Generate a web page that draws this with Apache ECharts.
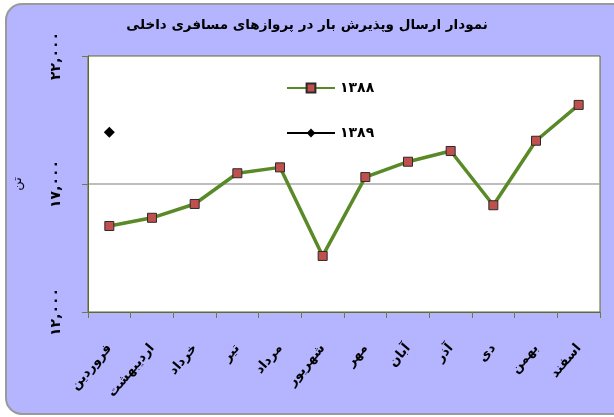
<!DOCTYPE html>
<html>
<head>
<meta charset="utf-8">
<script src="https://cdn.jsdelivr.net/npm/echarts@6/dist/echarts.min.js"></script>
<style>
html,body{margin:0;padding:0;background:#fff;}
#c{width:614px;height:417px;}
</style>
</head>
<body>
<div id="c"></div>
<script>
var titleText = 'نمودار ارسال وپذیرش بار در پروازهای مسافری داخلی';
var months = ['فروردین','اردیبهشت','خرداد','تیر','مرداد','شهریور','مهر','آبان','آذر','دی','بهمن','اسفند'];
var seriesNames = ['۱۳۸۸','۱۳۸۹'];
var values1388 = [15360, 15680, 16220, 17420, 17650, 14190, 17270, 17870, 18290, 16170, 18690, 20090];
var values1389 = [19020, null, null, null, null, null, null, null, null, null, null, null];
var yTicks = {12000:'۱۲,۰۰۰', 17000:'۱۷,۰۰۰', 22000:'۲۲,۰۰۰'};
var yName = 'تن';

var font = 'DejaVu Sans';
var chart = echarts.init(document.getElementById('c'), null, {renderer:'canvas'});
chart.setOption({
  animation:false,
  backgroundColor:'#ffffff',
  graphic:[{
    type:'rect', z:-10, silent:true,
    shape:{x:6,y:4,width:624,height:410,r:16},
    style:{fill:'#B4B4FF',stroke:'#9A9A9A',lineWidth:2}
  }],
  title:{
    text:titleText, left:'center', top:13,
    textStyle:{fontFamily:font,fontWeight:'bold',fontSize:13.5,color:'#000'}
  },
  legend:{
    orient:'vertical', left:281, top:76,
    itemWidth:48, itemHeight:11, itemGap:31,
    textStyle:{fontFamily:font,fontWeight:'bold',fontSize:14,color:'#000'},
    data:seriesNames
  },
  grid:{left:88,right:14,top:56,bottom:105,show:true,backgroundColor:'#ffffff',borderColor:'#5C6B2E',borderWidth:1},
  xAxis:{
    type:'category', data:months, boundaryGap:true,
    axisLine:{lineStyle:{color:'#5C6B2E',width:1}},
    axisTick:{show:true,length:6,lineStyle:{color:'#6B7B4A'}},
    axisLabel:{interval:0,rotate:50,margin:34,fontFamily:font,fontWeight:'bold',fontSize:13,color:'#000'}
  },
  yAxis:{
    type:'value', min:12000, max:22000, interval:5000,
    name:yName, nameLocation:'middle', nameRotate:90, nameGap:64,
    nameTextStyle:{fontFamily:font,fontSize:13,color:'#000'},
    axisLine:{show:true,lineStyle:{color:'#5C6B2E',width:1}},
    axisTick:{show:true,length:6,lineStyle:{color:'#6B7B4A'}},
    splitLine:{show:true,lineStyle:{color:['transparent','#A8A8A8','transparent'],width:1.5}},
    axisLabel:{rotate:90,margin:25,fontFamily:font,fontWeight:'bold',fontSize:14,color:'#000',
      formatter:function(v){return yTicks[v]||'';}}
  },
  series:[
    {
      name:seriesNames[0], type:'line', data:values1388,
      symbol:'rect', symbolSize:9,
      lineStyle:{color:'#5A8A28',width:3.5},
      itemStyle:{color:'#C0504D',borderColor:'#2A2A2A',borderWidth:1}
    },
    {
      name:seriesNames[1], type:'line', data:values1389,
      symbol:'diamond', symbolSize:11,
      lineStyle:{color:'#000',width:2},
      itemStyle:{color:'#000'}
    }
  ]
});
</script>
</body>
</html>
